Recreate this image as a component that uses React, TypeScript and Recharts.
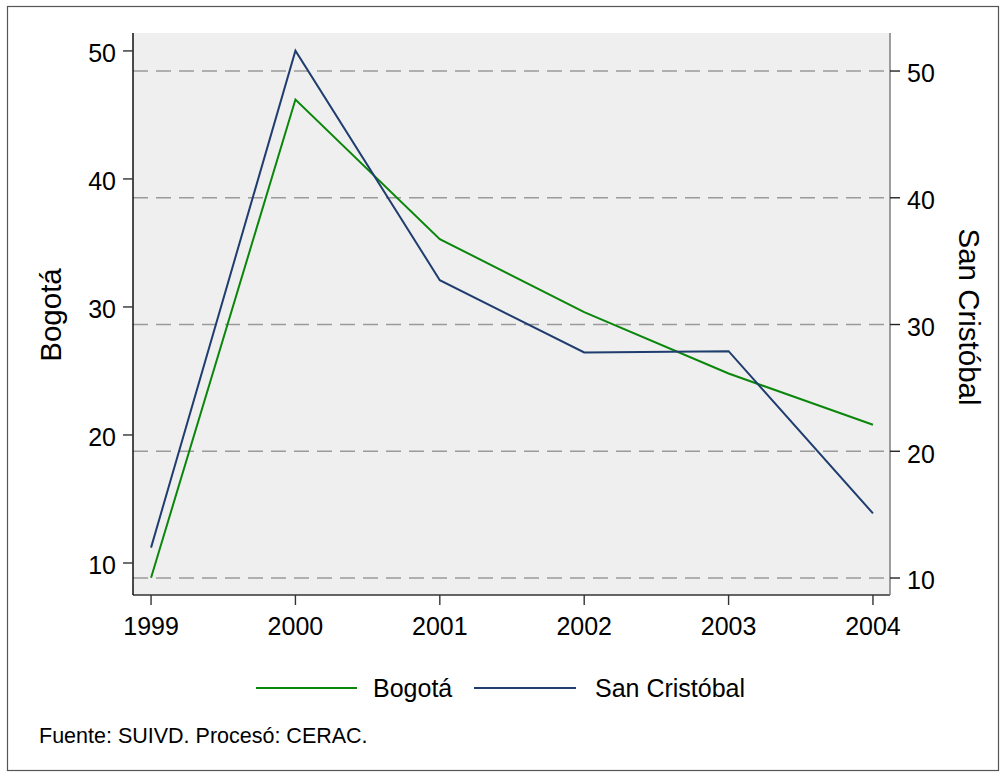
import React from 'react';
import { LineChart, Line, XAxis, YAxis, CartesianGrid } from 'recharts';

const years = [1999, 2000, 2001, 2002, 2003, 2004];
const bogota = [8.85, 46.2, 35.3, 29.6, 24.8, 20.8];
const sanCristobal = [12.4, 51.6, 33.5, 27.8, 27.9, 15.1];
const leftTicks = [10, 20, 30, 40, 50];
const rightTicks = [10, 20, 30, 40, 50];
const seriesNames = ['Bogotá', 'San Cristóbal'];
const seriesColors = ['#0a870a', '#1f3d6e'];
const noteText = 'Fuente: SUIVD. Procesó: CERAC.';

const data = years.map((y, i) => ({ year: y, bogota: bogota[i], sanCristobal: sanCristobal[i] }));

const FONT = '"Liberation Sans", Arial, Helvetica, sans-serif';
const TICK_FS = 25;
const TITLE_FS = 29.5;

const LeftTick = (p: any) => (
  <text x={p.x} y={p.y + 11.5} textAnchor="end" fontSize={TICK_FS} fontFamily={FONT} fill="#000">
    {p.payload.value}
  </text>
);
const RightTick = (p: any) => (
  <text x={p.x} y={p.y + 11.3} textAnchor="start" fontSize={TICK_FS} fontFamily={FONT} fill="#000">
    {p.payload.value}
  </text>
);
const BottomTick = (p: any) => (
  <text x={p.x} y={p.y + 28} textAnchor="middle" fontSize={TICK_FS} fontFamily={FONT} fill="#000">
    {p.payload.value}
  </text>
);

export default function App() {
  return (
    <div style={{ position: 'absolute', left: 0, top: 0, width: 1005, height: 777, background: '#fff' }}>
      <LineChart
        width={1005}
        height={777}
        data={data}
        margin={{ top: 33, right: 15, bottom: 122, left: 33 }}
      >
        <CartesianGrid
          yAxisId="right"
          horizontal={false}
          vertical={false}
          fill="#efefef"
          fillOpacity={1}
          stroke="none"
        />
        <CartesianGrid
          yAxisId="right"
          vertical={false}
          fill="none"
          stroke="#9a9a9a"
          strokeWidth={1.4}
          strokeDasharray="15 8"
          horizontalValues={rightTicks}
        />
        <XAxis
          dataKey="year"
          type="number"
          domain={[1998.875, 2004.118]}
          allowDataOverflow
          ticks={years}
          interval={0}
          height={60}
          tickSize={10}
          tickMargin={2}
          axisLine={{ stroke: '#333', strokeWidth: 1.4 }}
          tickLine={{ stroke: '#333', strokeWidth: 1.4 }}
          tick={BottomTick}
        />
        <YAxis
          yAxisId="left"
          orientation="left"
          type="number"
          domain={[7.5, 51.4]}
          allowDataOverflow
          ticks={leftTicks}
          interval={0}
          width={100}
          tickSize={10}
          tickMargin={7}
          axisLine={{ stroke: '#000', strokeWidth: 1.4 }}
          tickLine={{ stroke: '#333', strokeWidth: 1.4 }}
          tick={LeftTick}
        />
        <YAxis
          yAxisId="right"
          orientation="right"
          type="number"
          domain={[8.66, 53.0]}
          allowDataOverflow
          ticks={rightTicks}
          interval={0}
          width={100}
          tickSize={10}
          tickMargin={7}
          axisLine={{ stroke: '#777', strokeWidth: 1.4 }}
          tickLine={{ stroke: '#222', strokeWidth: 1.4 }}
          tick={RightTick}
        />
        <Line
          yAxisId="left"
          type="linear"
          dataKey="bogota"
          name={seriesNames[0]}
          stroke={seriesColors[0]}
          strokeWidth={2}
          dot={false}
          isAnimationActive={false}
        />
        <Line
          yAxisId="right"
          type="linear"
          dataKey="sanCristobal"
          name={seriesNames[1]}
          stroke={seriesColors[1]}
          strokeWidth={2}
          dot={false}
          isAnimationActive={false}
        />
      </LineChart>
      <svg
        width={1005}
        height={777}
        style={{ position: 'absolute', left: 0, top: 0, pointerEvents: 'none' }}
      >
        <rect x={7.5} y={6.5} width={991} height={764} fill="none" stroke="#555" strokeWidth={1.2} />
        <text
          x={61}
          y={315}
          transform="rotate(-90 61 315)"
          textAnchor="middle"
          fontSize={TITLE_FS}
          fontFamily={FONT}
          fill="#000"
        >
          {seriesNames[0]}
        </text>
        <text
          x={959}
          y={317}
          transform="rotate(90 959 317)"
          textAnchor="middle"
          fontSize={TITLE_FS}
          fontFamily={FONT}
          fill="#000"
        >
          {seriesNames[1]}
        </text>
        <line x1={256} x2={357} y1={688} y2={688} stroke={seriesColors[0]} strokeWidth={2} />
        <text x={373} y={697} fontSize={TICK_FS} fontFamily={FONT} fill="#000">
          {seriesNames[0]}
        </text>
        <line x1={474} x2={576} y1={688} y2={688} stroke={seriesColors[1]} strokeWidth={2} />
        <text x={595} y={697} fontSize={TICK_FS} fontFamily={FONT} fill="#000">
          {seriesNames[1]}
        </text>
        <text x={39} y={743} fontSize={21.5} fontFamily={FONT} fill="#000">
          {noteText}
        </text>
      </svg>
    </div>
  );
}
